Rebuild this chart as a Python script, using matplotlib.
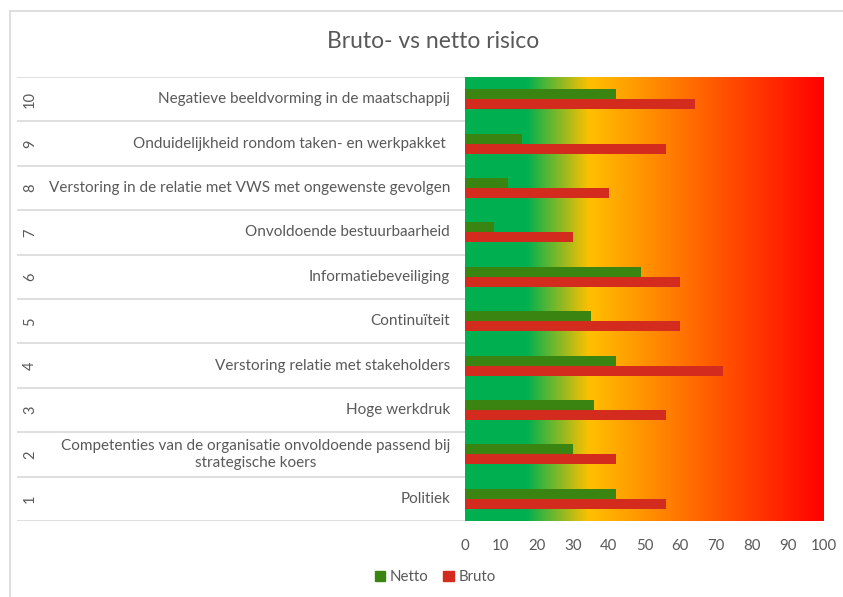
import matplotlib
matplotlib.use("Agg")
import matplotlib.pyplot as plt
import numpy as np
from matplotlib.colors import LinearSegmentedColormap
from matplotlib.lines import Line2D
from matplotlib.patches import Patch

plt.rcParams['font.family'] = ['Lato', 'DejaVu Sans']

categories = [1, 2, 3, 4, 5, 6, 7, 8, 9, 10]
labels = [
    "Politiek",
    "Competenties van de organisatie onvoldoende passend bij\nstrategische koers",
    "Hoge werkdruk",
    "Verstoring relatie met stakeholders",
    "Continuïteit",
    "Informatiebeveiliging",
    "Onvoldoende bestuurbaarheid",
    "Verstoring in de relatie met VWS met ongewenste gevolgen",
    "Onduidelijkheid rondom taken- en werkpakket ",
    "Negatieve beeldvorming in de maatschappij",
]
netto = [42, 30, 36, 42, 35, 49, 8, 12, 16, 42]
bruto = [56, 42, 56, 72, 60, 60, 30, 40, 56, 64]
xticks = [0, 10, 20, 30, 40, 50, 60, 70, 80, 90, 100]

W, H = 843, 597
fig = plt.figure(figsize=(W / 100, H / 100), dpi=100)
fig.patch.set_facecolor('white')

def fx(px):
    return px / W

def fy(py):
    return 1 - py / H

TXT = '#595959'
GRID = '#D9D9D9'

# chart border
fig.add_artist(Line2D([fx(9.5), fx(9.5)], [fy(11), 0], transform=fig.transFigure, color=GRID, lw=1.2))
fig.add_artist(Line2D([fx(9.5), 1], [fy(11), fy(11)], transform=fig.transFigure, color=GRID, lw=1.2))

left, right, top, bottom = 465, 824, 77, 521
ax = fig.add_axes([fx(left), fy(bottom), fx(right - left), (bottom - top) / H])

# gradient background
cmap = LinearSegmentedColormap.from_list('risk', [
    (0.0, '#00B050'), (0.17, '#00B050'), (0.345, '#FFC000'), (1.0, '#FF0000')])
grad = np.linspace(0, 1, 512).reshape(1, -1)
ax.imshow(grad, extent=(0, 100, 0.5, 10.5), aspect='auto', cmap=cmap, zorder=0)

y = np.array(categories, dtype=float)
h = 0.225
ax.barh(y + h / 2, netto, height=h, color='#3A8511', label='Netto', zorder=2)
ax.barh(y - h / 2, bruto, height=h, color='#D42B1F', label='Bruto', zorder=2)

ax.set_xlim(0, 100)
ax.set_ylim(0.5, 10.5)
ax.set_xticks(xticks)
ax.set_xticklabels([str(v) for v in xticks], color=TXT, fontsize=10.8)
ax.tick_params(axis='x', length=0, pad=13)
ax.set_yticks([])
for s in ax.spines.values():
    s.set_visible(False)

# label table on the left
lax = fig.add_axes([fx(17), fy(bottom), fx(left - 17), (bottom - top) / H])
lax.set_xlim(0, 1)
lax.set_ylim(0.5, 10.5)
lax.axis('off')
for b in np.arange(0.5, 11, 1.0):
    lax.axhline(b, color=GRID, lw=1.2)
numx = (30 - 17) / (left - 17)
labx = (450 - 17) / (left - 17)
for c, lab in zip(categories, labels):
    lax.text(numx, c, str(c), rotation=90, ha='center', va='center', color=TXT, fontsize=10.5)
    lax.text(labx, c, lab, ha='right', va='center', multialignment='center',
             color=TXT, fontsize=10.95, linespacing=1.3)

fig.text(fx(433), fy(42), 'Bruto- vs netto risico', ha='center', va='center', color=TXT, fontsize=16.5)

handles = [Patch(color='#3A8511', label='Netto'), Patch(color='#D42B1F', label='Bruto')]
fig.legend(handles=handles, loc='center', bbox_to_anchor=(fx(435), fy(577)), ncol=2, frameon=False,
           fontsize=10.8, labelcolor=TXT, handlelength=0.7, handleheight=0.7, handletextpad=0.3,
           columnspacing=1.0)

fig.savefig('out.png', dpi=100)
